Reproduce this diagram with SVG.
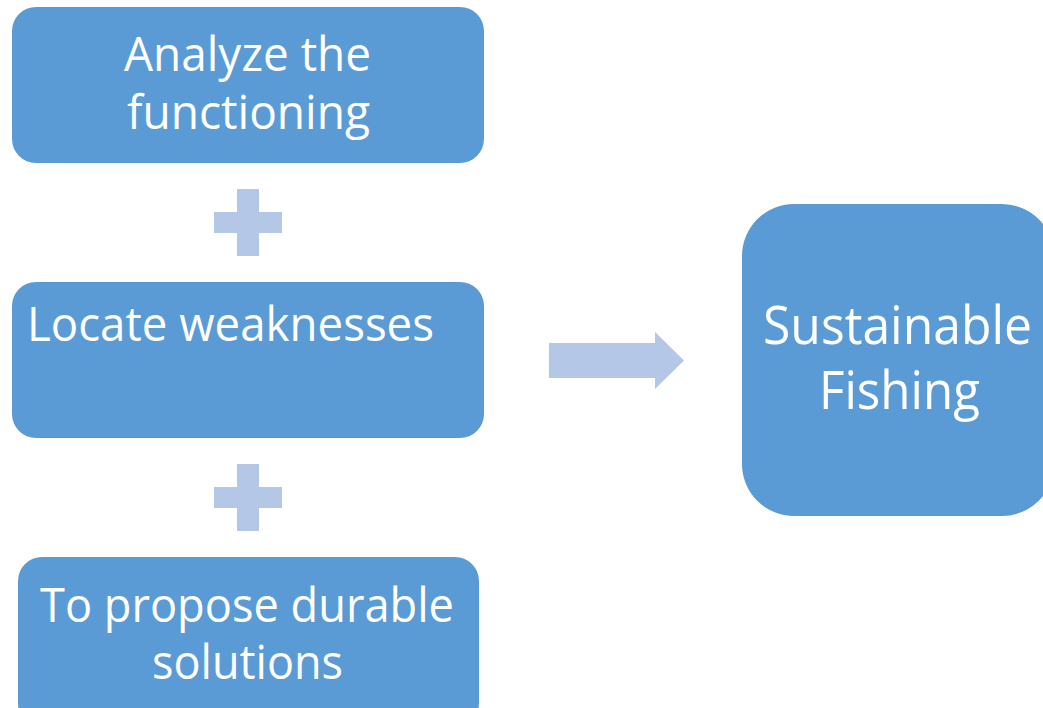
<svg xmlns="http://www.w3.org/2000/svg" width="1043" height="708" viewBox="0 0 1043 708">
<style>
.box{fill:#5B9BD5;}
.acc{fill:#B4C7E7;}
.t{fill:#FFFFFF;font-family:"Open Sans","Liberation Sans",sans-serif;}
.s48{font-size:48px;}
.s53{font-size:53px;}
</style>
<rect width="1043" height="708" fill="#FFFFFF"/>
<g id="node-analyze">
<rect class="box" x="12" y="7" width="472" height="156" rx="24" ry="24"/>
<text class="t s48" x="247.5" y="71" text-anchor="middle" textLength="247" lengthAdjust="spacingAndGlyphs">Analyze the</text>
<text class="t s48" x="248.5" y="129" text-anchor="middle" textLength="243" lengthAdjust="spacingAndGlyphs">functioning</text>
</g>
<g id="plus-1">
<rect class="acc" x="237" y="189" width="22" height="67"/>
<rect class="acc" x="214" y="212" width="68" height="21"/>
</g>
<g id="node-locate">
<rect class="box" x="12" y="282" width="472" height="156" rx="24" ry="24"/>
<text class="t s48" x="27" y="341" textLength="407" lengthAdjust="spacingAndGlyphs">Locate weaknesses</text>
</g>
<g id="plus-2">
<rect class="acc" x="237" y="464" width="22" height="67"/>
<rect class="acc" x="214" y="487" width="68" height="21"/>
</g>
<g id="node-propose">
<rect class="box" x="18" y="557" width="461" height="170" rx="24" ry="24"/>
<text class="t s48" x="247" y="622" text-anchor="middle" textLength="414" lengthAdjust="spacingAndGlyphs">To propose durable</text>
<text class="t s48" x="247.5" y="679" text-anchor="middle" textLength="191" lengthAdjust="spacingAndGlyphs">solutions</text>
</g>
<g id="connectors">
<polygon class="acc" points="549,343 655,343 655,332 684,360.5 655,389 655,378 549,378"/>
</g>
<g id="node-sustainable">
<rect class="box" x="742" y="204" width="312" height="312" rx="52" ry="52"/>
<text class="t s53" x="897.5" y="344" text-anchor="middle" textLength="269" lengthAdjust="spacingAndGlyphs">Sustainable</text>
<text class="t s53" x="899.5" y="409" text-anchor="middle" textLength="161" lengthAdjust="spacingAndGlyphs">Fishing</text>
</g>
</svg>
